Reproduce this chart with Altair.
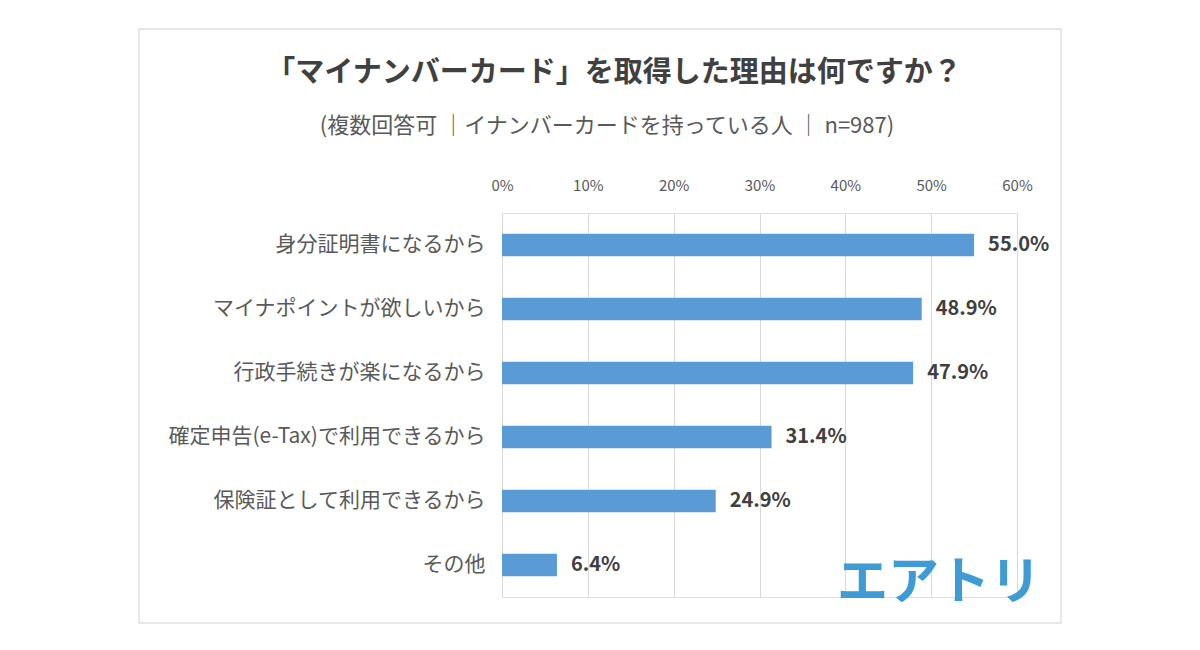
import altair as alt
import pandas as pd

categories = ["身分証明書になるから", "マイナポイントが欲しいから", "行政手続きが楽になるから",
              "確定申告(e-Tax)で利用できるから", "保険証として利用できるから", "その他"]
values = [55.0, 48.9, 47.9, 31.4, 24.9, 6.4]
title_text = "「マイナンバーカード」を取得した理由は何ですか？"
subtitle_text = "(複数回答可 ｜イナンバーカードを持っている人 ｜ n=987)"
logo_text = "エアトリ"

df = pd.DataFrame({"reason": categories, "pct": values})
df["label"] = [f"{v:.1f}%" for v in values]

FONT = "Noto Sans CJK JP"

x_enc = alt.X("pct:Q", scale=alt.Scale(domain=[0, 60], nice=False),
              axis=alt.Axis(orient="top", values=[0, 10, 20, 30, 40, 50, 60],
                            labelExpr="datum.value + '%'", title=None,
                            domain=False, ticks=False, grid=True, labelFlush=False,
                            gridColor="#d9d9d9", labelPadding=20,
                            labelFontSize=15, labelColor="#595959", labelFont=FONT))
y_enc = alt.Y("reason:N", sort=categories,
              scale=alt.Scale(paddingInner=0.65, paddingOuter=0.325),
              axis=alt.Axis(title=None, domain=False, ticks=False, labelPadding=17,
                            labelFontSize=21, labelColor="#595959", labelFont=FONT,
                            labelLimit=400))

bars = alt.Chart(df).mark_bar(color="#5B9BD5").encode(x=x_enc, y=y_enc)
labels = alt.Chart(df).mark_text(align="left", baseline="middle", dx=14,
                                 fontSize=20, fontWeight="bold", color="#404040",
                                 font=FONT).encode(
    x="pct:Q", y=alt.Y("reason:N", sort=categories), text="label:N")

one = pd.DataFrame({"a": [0]})
border = alt.Chart(one).mark_rect(
    fill=None, stroke="#d0d0d0", strokeWidth=1).encode(
    x=alt.value(-363), x2=alt.value(559), y=alt.value(-184), y2=alt.value(410))

title = alt.Chart(pd.DataFrame({"t": [title_text]})).mark_text(
    fontSize=29, fontWeight="bold", color="#404040", font=FONT,
    align="center", baseline="middle").encode(
    x=alt.value(112), y=alt.value(-140), text="t:N")

subtitle = alt.Chart(pd.DataFrame({"t": [subtitle_text]})).mark_text(
    fontSize=22, color="#595959", font=FONT,
    align="center", baseline="middle").encode(
    x=alt.value(105), y=alt.value(-87), text="t:N")

logo = alt.Chart(pd.DataFrame({"t": [logo_text]})).mark_text(
    fontSize=51, fontWeight="bold", color="#3f9bd6", font=FONT,
    align="center", baseline="middle").encode(
    x=alt.value(437), y=alt.value(371), text="t:N")

chart = alt.layer(border, bars, labels, title, subtitle, logo).properties(
    width=515, height=384,
    padding={"left": 130, "top": 20, "right": 5, "bottom": 5},
).configure_view(stroke=None).configure(background="white")

chart.save("out.html", embed_options={"renderer": "svg", "actions": False})
